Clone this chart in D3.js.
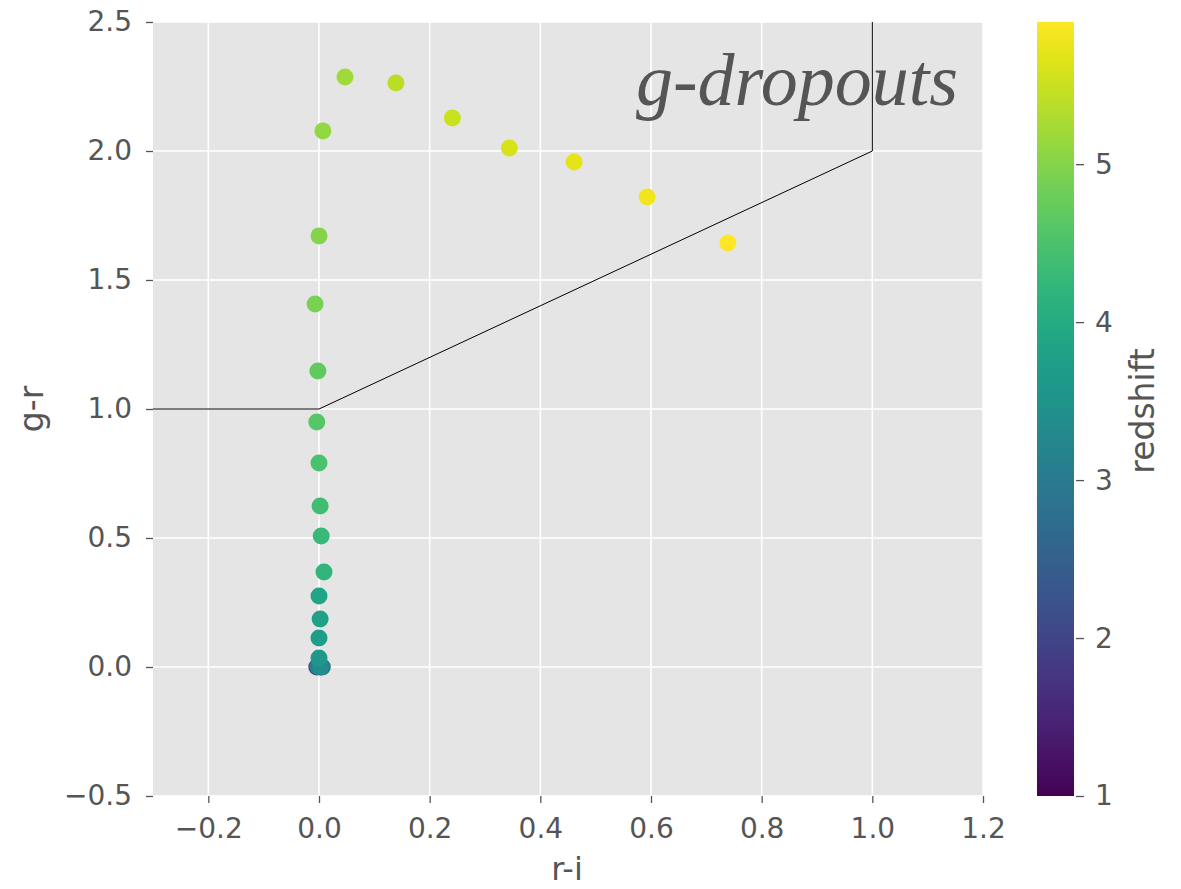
<!DOCTYPE html>
<html>
<head>
<meta charset="utf-8">
<script src="https://cdn.jsdelivr.net/npm/d3@7"></script>
<style>
  body { margin: 0; background: #fff; }
</style>
</head>
<body>
<svg id="chart" width="1181" height="889" font-family="DejaVu Sans, sans-serif"></svg>
<script>
// colours of the tracks (r-i, g-r) with redshift
const ri = [-0.004, 0.002, 0.006, -0.002, 0.003, 0.000, 0.000, 0.002, 0.000, 0.009, 0.004, 0.002, 0.000, -0.004, -0.002, -0.007, 0.000, 0.007, 0.047, 0.139, 0.241, 0.344, 0.461, 0.593, 0.739];
const gr = [0.000, 0.000, 0.000, 0.002, 0.000, 0.035, 0.112, 0.186, 0.275, 0.368, 0.508, 0.624, 0.791, 0.950, 1.147, 1.407, 1.671, 2.078, 2.287, 2.264, 2.128, 2.012, 1.957, 1.822, 1.643];
const redshift = [2.0, 2.4, 2.8, 3.1, 3.4, 3.6, 3.7, 3.8, 3.9, 4.2, 4.3, 4.4, 4.5, 4.6, 4.7, 4.9, 5.0, 5.1, 5.2, 5.4, 5.5, 5.6, 5.7, 5.8, 5.9];

// selection box for g-dropouts
const boxRi = [-0.3, 0.0, 1.0, 1.0];
const boxGr = [1.0, 1.0, 2.0, 2.5];

const xTicks = [-0.2, 0.0, 0.2, 0.4, 0.6, 0.8, 1.0, 1.2];
const yTicks = [-0.5, 0.0, 0.5, 1.0, 1.5, 2.0, 2.5];
const zTicks = [1, 2, 3, 4, 5];

const MARGIN = { top: 22, right: 198, bottom: 93, left: 153 };
const width = 1181, height = 889;
const boundsWidth = 983 - MARGIN.left;
const boundsHeight = height - MARGIN.top - MARGIN.bottom;

const svg = d3.select("#chart");
const g = svg.append("g").attr("transform", `translate(${MARGIN.left},${MARGIN.top})`);

const xScale = d3.scaleLinear().domain([-0.3, 1.2]).range([0, boundsWidth]);
const yScale = d3.scaleLinear().domain([-0.5, 2.5]).range([boundsHeight, 0]);
const zMin = 1, zMax = 5.9;
const color = d3.scaleSequential(d3.interpolateViridis).domain([zMin, zMax]);

// background + grid
g.append("rect").attr("width", boundsWidth).attr("height", boundsHeight).attr("fill", "#e5e5e5");
g.selectAll(".vgrid").data(xTicks).join("line")
  .attr("x1", d => xScale(d)).attr("x2", d => xScale(d))
  .attr("y1", 0).attr("y2", boundsHeight)
  .attr("stroke", "#fff").attr("stroke-width", 1.6);
g.selectAll(".hgrid").data(yTicks).join("line")
  .attr("y1", d => yScale(d)).attr("y2", d => yScale(d))
  .attr("x1", 0).attr("x2", boundsWidth)
  .attr("stroke", "#fff").attr("stroke-width", 1.6);

// axes
const fmt = d => (d < 0 ? "\u2212" : "") + d3.format(".1f")(Math.abs(d));
const xAxis = g.append("g").attr("transform", `translate(0,${boundsHeight})`)
  .call(d3.axisBottom(xScale).tickValues(xTicks).tickFormat(fmt).tickSize(7).tickPadding(15));
const yAxis = g.append("g")
  .call(d3.axisLeft(yScale).tickValues(yTicks).tickFormat(fmt).tickSize(7).tickPadding(14));
[xAxis, yAxis].forEach(a => {
  a.select(".domain").remove();
  a.selectAll(".tick line").attr("stroke", "#555").attr("stroke-width", 1.3);
  a.selectAll(".tick text").attr("font-size", 28).attr("fill", "#555")
    .attr("font-family", "DejaVu Sans, sans-serif");
});

// selection line
g.append("path")
  .attr("d", d3.line().x(d => xScale(d[0])).y(d => yScale(d[1]))(boxRi.map((v, i) => [v, boxGr[i]])))
  .attr("fill", "none").attr("stroke", "#000").attr("stroke-width", 1);

// points
g.selectAll(".dot").data(ri.map((v, i) => ({ x: v, y: gr[i], z: redshift[i] })))
  .join("circle")
  .attr("cx", d => xScale(d.x)).attr("cy", d => yScale(d.y))
  .attr("r", 8.5).attr("fill", d => color(d.z));

// title
g.append("text").attr("x", 805).attr("y", 83).attr("text-anchor", "end")
  .style("font-family", "'Liberation Serif', 'DejaVu Serif', serif").style("font-style", "italic")
  .attr("font-size", 74).attr("fill", "#555").text("g-dropouts");

// axis titles
svg.append("text").attr("x", 567).attr("y", 880)
  .attr("text-anchor", "middle").attr("font-size", 32).attr("fill", "#555").text("r-i");
svg.append("text").attr("transform", `translate(43,${MARGIN.top + yScale(1.0)}) rotate(-90)`)
  .attr("text-anchor", "middle").attr("font-size", 33).attr("fill", "#555").text("g-r");

// colorbar
const cbX = 1037, cbW = 37;
const cbScale = d3.scaleLinear().domain([zMin, zMax]).range([MARGIN.top + boundsHeight, MARGIN.top]);
const defs = svg.append("defs");
const grad = defs.append("linearGradient").attr("id", "vir").attr("x1", 0).attr("y1", 1).attr("x2", 0).attr("y2", 0);
d3.range(0, 1.0001, 0.05).forEach(t => {
  grad.append("stop").attr("offset", t).attr("stop-color", d3.interpolateViridis(t));
});
svg.append("rect").attr("x", cbX).attr("y", MARGIN.top).attr("width", cbW).attr("height", boundsHeight)
  .attr("fill", "url(#vir)");
const cbAxis = svg.append("g").attr("transform", `translate(${cbX + cbW + 2},0)`)
  .call(d3.axisRight(cbScale).tickValues(zTicks).tickFormat(d3.format("d")).tickSize(8).tickPadding(11));
cbAxis.select(".domain").remove();
cbAxis.selectAll(".tick line").attr("stroke", "#555").attr("stroke-width", 1.3);
cbAxis.selectAll(".tick text").attr("font-size", 28).attr("fill", "#555")
  .attr("font-family", "DejaVu Sans, sans-serif");
svg.append("text").attr("transform", `translate(1154,411) rotate(-90)`)
  .attr("text-anchor", "middle").attr("font-size", 33).attr("fill", "#555").text("redshift");
</script>
</body>
</html>
